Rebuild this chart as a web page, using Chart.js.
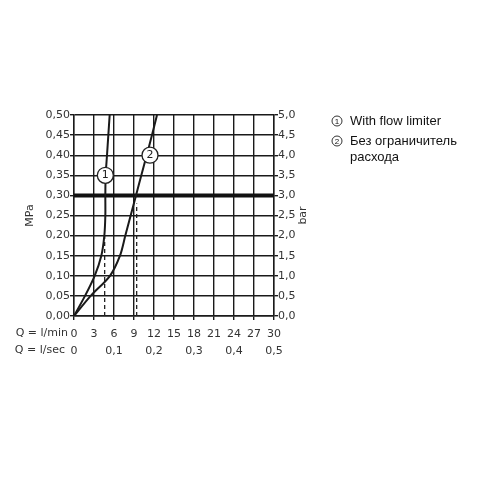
<!DOCTYPE html>
<html lang="ru">
<head>
<meta charset="UTF-8">
<title>Flow diagram</title>
<script src="https://cdn.jsdelivr.net/npm/chart.js"></script>
<style>
  html, body { margin: 0; padding: 0; background: #fff; }
  #wrap { width: 500px; height: 500px; }
</style>
</head>
<body>
<div id="wrap"><canvas id="grafico" width="500" height="500"></canvas></div>
<script>
    // pressure steps (MPa) shared by both curves
    const pressao = [0, 0.05, 0.10, 0.15, 0.20, 0.25, 0.30, 0.35, 0.40, 0.45, 0.50];
    // flow in l/min
    const comLimitador = [0, 1.65, 3.1, 4.1, 4.55, 4.7, 4.7, 4.75, 4.95, 5.15, 5.35];
    const semLimitador = [0, 2.5, 5.4, 6.9, 7.7, 8.5, 9.3, 10.1, 10.9, 11.7, 12.45];

    // dashed guides (flow at working point, pressure reached)
    const guiaQ = [4.6, 9.4];
    const guiaP = [0.2, 0.28];
    const pressaoRef = 0.30;

    // numbered circles on the curves
    const marcaQ = [4.7, 11.4];
    const marcaP = [0.35, 0.40];
    const marcaTxt = ['1', '2'];

    const legenda = ['With flow limiter', 'Без ограничитель', 'расхода'];

    const fonte = '"DejaVu Sans", sans-serif';
    const corTexto = '#333';

    const pares = (xs, ys) => xs.map((x, i) => ({ x: x, y: ys[i] }));

    const datasets = [
        { data: pares(comLimitador, pressao), showLine: true, borderColor: '#1a1a1a', borderWidth: 2, pointRadius: 0, tension: 0.3 },
        { data: pares(semLimitador, pressao), showLine: true, borderColor: '#1a1a1a', borderWidth: 2, pointRadius: 0, tension: 0.3 },
        { data: [{ x: 0, y: pressaoRef }, { x: 30, y: pressaoRef }], showLine: true, borderColor: '#111', borderWidth: 4, pointRadius: 0 }
    ];
    guiaQ.forEach((q, i) => {
        datasets.push({ data: [{ x: q, y: 0 }, { x: q, y: guiaP[i] }], showLine: true, borderColor: '#222', borderWidth: 1.3, borderDash: [4, 3], pointRadius: 0 });
    });
    datasets.push({
        data: pares(marcaQ, marcaP), showLine: false, order: -1,
        pointRadius: 8, pointBackgroundColor: '#fff', pointBorderColor: '#222', pointBorderWidth: 1.3
    });

    const virgula = (v, d) => v.toFixed(d).replace('.', ',');

    // texts that are not axis ticks: titles, Q rows, circle numbers, legend
    const textos = {
        id: 'textos',
        afterDatasetsDraw(chart) {
            const c = chart.ctx;
            const sx = chart.scales.x, sy = chart.scales.y;
            c.save();
            c.fillStyle = '#222';
            c.font = '11px ' + fonte;
            c.textAlign = 'center';
            c.textBaseline = 'middle';
            marcaTxt.forEach((t, i) => {
                c.fillText(t, sx.getPixelForValue(marcaQ[i]), sy.getPixelForValue(marcaP[i]));
            });

            c.fillStyle = corTexto;
            c.font = '11px ' + fonte;
            const meio = (chart.chartArea.top + chart.chartArea.bottom) / 2;
            c.save(); c.translate(30, meio); c.rotate(-Math.PI / 2); c.fillText('MPa', 0, 0); c.restore();
            c.save(); c.translate(303, meio); c.rotate(-Math.PI / 2); c.fillText('bar', 0, 0); c.restore();

            c.textAlign = 'right';
            c.fillText('Q = l/min', 68, 333);
            c.fillText('Q = l/sec', 65, 350);

            // legend
            c.textAlign = 'left';
            c.fillStyle = '#111';
            c.font = '13px "Liberation Sans", Arial, sans-serif';
            c.fillText(legenda[0], 350, 121);
            c.fillText(legenda[1], 350, 141);
            c.fillText(legenda[2], 350, 157);
            c.strokeStyle = '#333';
            c.lineWidth = 1;
            c.font = '8px "Liberation Sans", Arial, sans-serif';
            c.textAlign = 'center';
            [['1', 121], ['2', 141]].forEach(([n, y]) => {
                c.beginPath(); c.arc(337, y, 5, 0, Math.PI * 2); c.stroke();
                c.fillText(n, 337, y + 0.5);
            });
            c.restore();
        }
    };

    const grade = { color: '#1a1a1a', lineWidth: 1.4, tickLength: 4 };
    const tickFont = { family: fonte, size: 11 };

    new Chart(document.getElementById('grafico').getContext('2d'), {
        type: 'scatter',
        data: { datasets: datasets },
        options: {
            responsive: false,
            animation: false,
            layout: { padding: { left: 34, right: 196, top: 115, bottom: 140 } },
            plugins: { legend: { display: false }, tooltip: { enabled: false } },
            scales: {
                x: {
                    type: 'linear', position: 'bottom', min: 0, max: 30,
                    ticks: { stepSize: 3, color: corTexto, font: tickFont, padding: 8 },
                    grid: grade, border: { color: '#1a1a1a', width: 1.4 },
                    afterFit: s => { s.height = 24; }
                },
                x2: {
                    type: 'linear', position: 'bottom', min: 0, max: 0.5,
                    ticks: { stepSize: 0.1, color: corTexto, font: tickFont, padding: 5,
                        callback: v => v === 0 ? '0' : virgula(v, 1) },
                    grid: { display: false, drawTicks: false }, border: { display: false },
                    afterFit: s => { s.height = 20; }
                },
                y: {
                    position: 'left', min: 0, max: 0.5,
                    ticks: { stepSize: 0.05, color: corTexto, font: tickFont, padding: 0,
                        callback: v => virgula(v, 2) },
                    grid: grade, border: { color: '#1a1a1a', width: 1.4 },
                    afterFit: s => { s.width = 40; }
                },
                y2: {
                    position: 'right', min: 0, max: 5,
                    ticks: { stepSize: 0.5, color: corTexto, font: tickFont, padding: 0,
                        callback: v => virgula(v, 1) },
                    grid: { drawOnChartArea: false, color: '#1a1a1a', lineWidth: 1.4, tickLength: 4 },
                    border: { color: '#1a1a1a', width: 1.4 },
                    afterFit: s => { s.width = 30; }
                }
            }
        },
        plugins: [textos]
    });
</script>
</body>
</html>
